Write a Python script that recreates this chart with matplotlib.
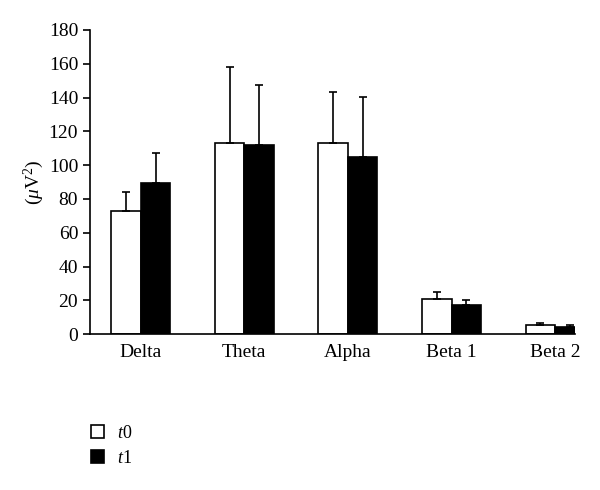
import numpy as np
import matplotlib
matplotlib.use("Agg")
import matplotlib.pyplot as plt

plt.rcParams['font.family'] = ['Liberation Serif', 'DejaVu Serif']
plt.rcParams['mathtext.fontset'] = 'custom'
plt.rcParams['mathtext.rm'] = 'Liberation Serif'
plt.rcParams['mathtext.it'] = 'Liberation Serif:italic'

# band power per EEG band, mean and upper error
bands = ['Delta', 'Theta', 'Alpha', 'Beta 1', 'Beta 2']
t0_mean = [73, 113, 113, 21, 5.3]
t0_err = [11, 45, 30, 4, 1.4]
t1_mean = [89.5, 112, 105, 17.2, 4.1]
t1_err = [17.5, 35.5, 35.5, 3, 1.4]

x = np.arange(len(bands))
w = 0.285

fig = plt.figure(figsize=(6, 4.9), dpi=100)
ax = fig.add_axes([0.15, 0.318, 0.808, 0.621])

ekw = dict(elinewidth=1.2, capsize=3, capthick=1.2, ecolor='black')
b0 = ax.bar(x - w / 2, t0_mean, w, color='white', edgecolor='black', linewidth=1.2,
            yerr=[np.zeros(len(bands)), t0_err], error_kw=ekw, label='$t$0')
b1 = ax.bar(x + w / 2, t1_mean, w, color='black', edgecolor='black', linewidth=1.2,
            yerr=[np.zeros(len(bands)), t1_err], error_kw=ekw, label='$t$1')

ax.set_xlim(-0.49, 4.19)
ax.set_ylim(0, 180)
ax.set_yticks(np.arange(0, 181, 20))
ax.set_xticks(x)
ax.set_xticklabels(bands)
ax.tick_params(axis='x', length=0, pad=7, labelsize=14)
ax.tick_params(axis='y', length=5, width=1.2, direction='out', labelsize=14)
ax.spines['top'].set_visible(False)
ax.spines['right'].set_visible(False)
ax.spines['left'].set_linewidth(1.2)
ax.spines['bottom'].set_linewidth(1.2)
ax.set_ylabel(r'($\mathit{\mu}$V$^2$)', fontsize=14, labelpad=2)

fig.legend(handles=[b0, b1], loc='upper left', bbox_to_anchor=(0.124, 0.166),
           frameon=False, fontsize=13, handlelength=0.75, handleheight=0.7,
           handletextpad=0.7, labelspacing=0.45)

fig.savefig('out.png', dpi=100)
